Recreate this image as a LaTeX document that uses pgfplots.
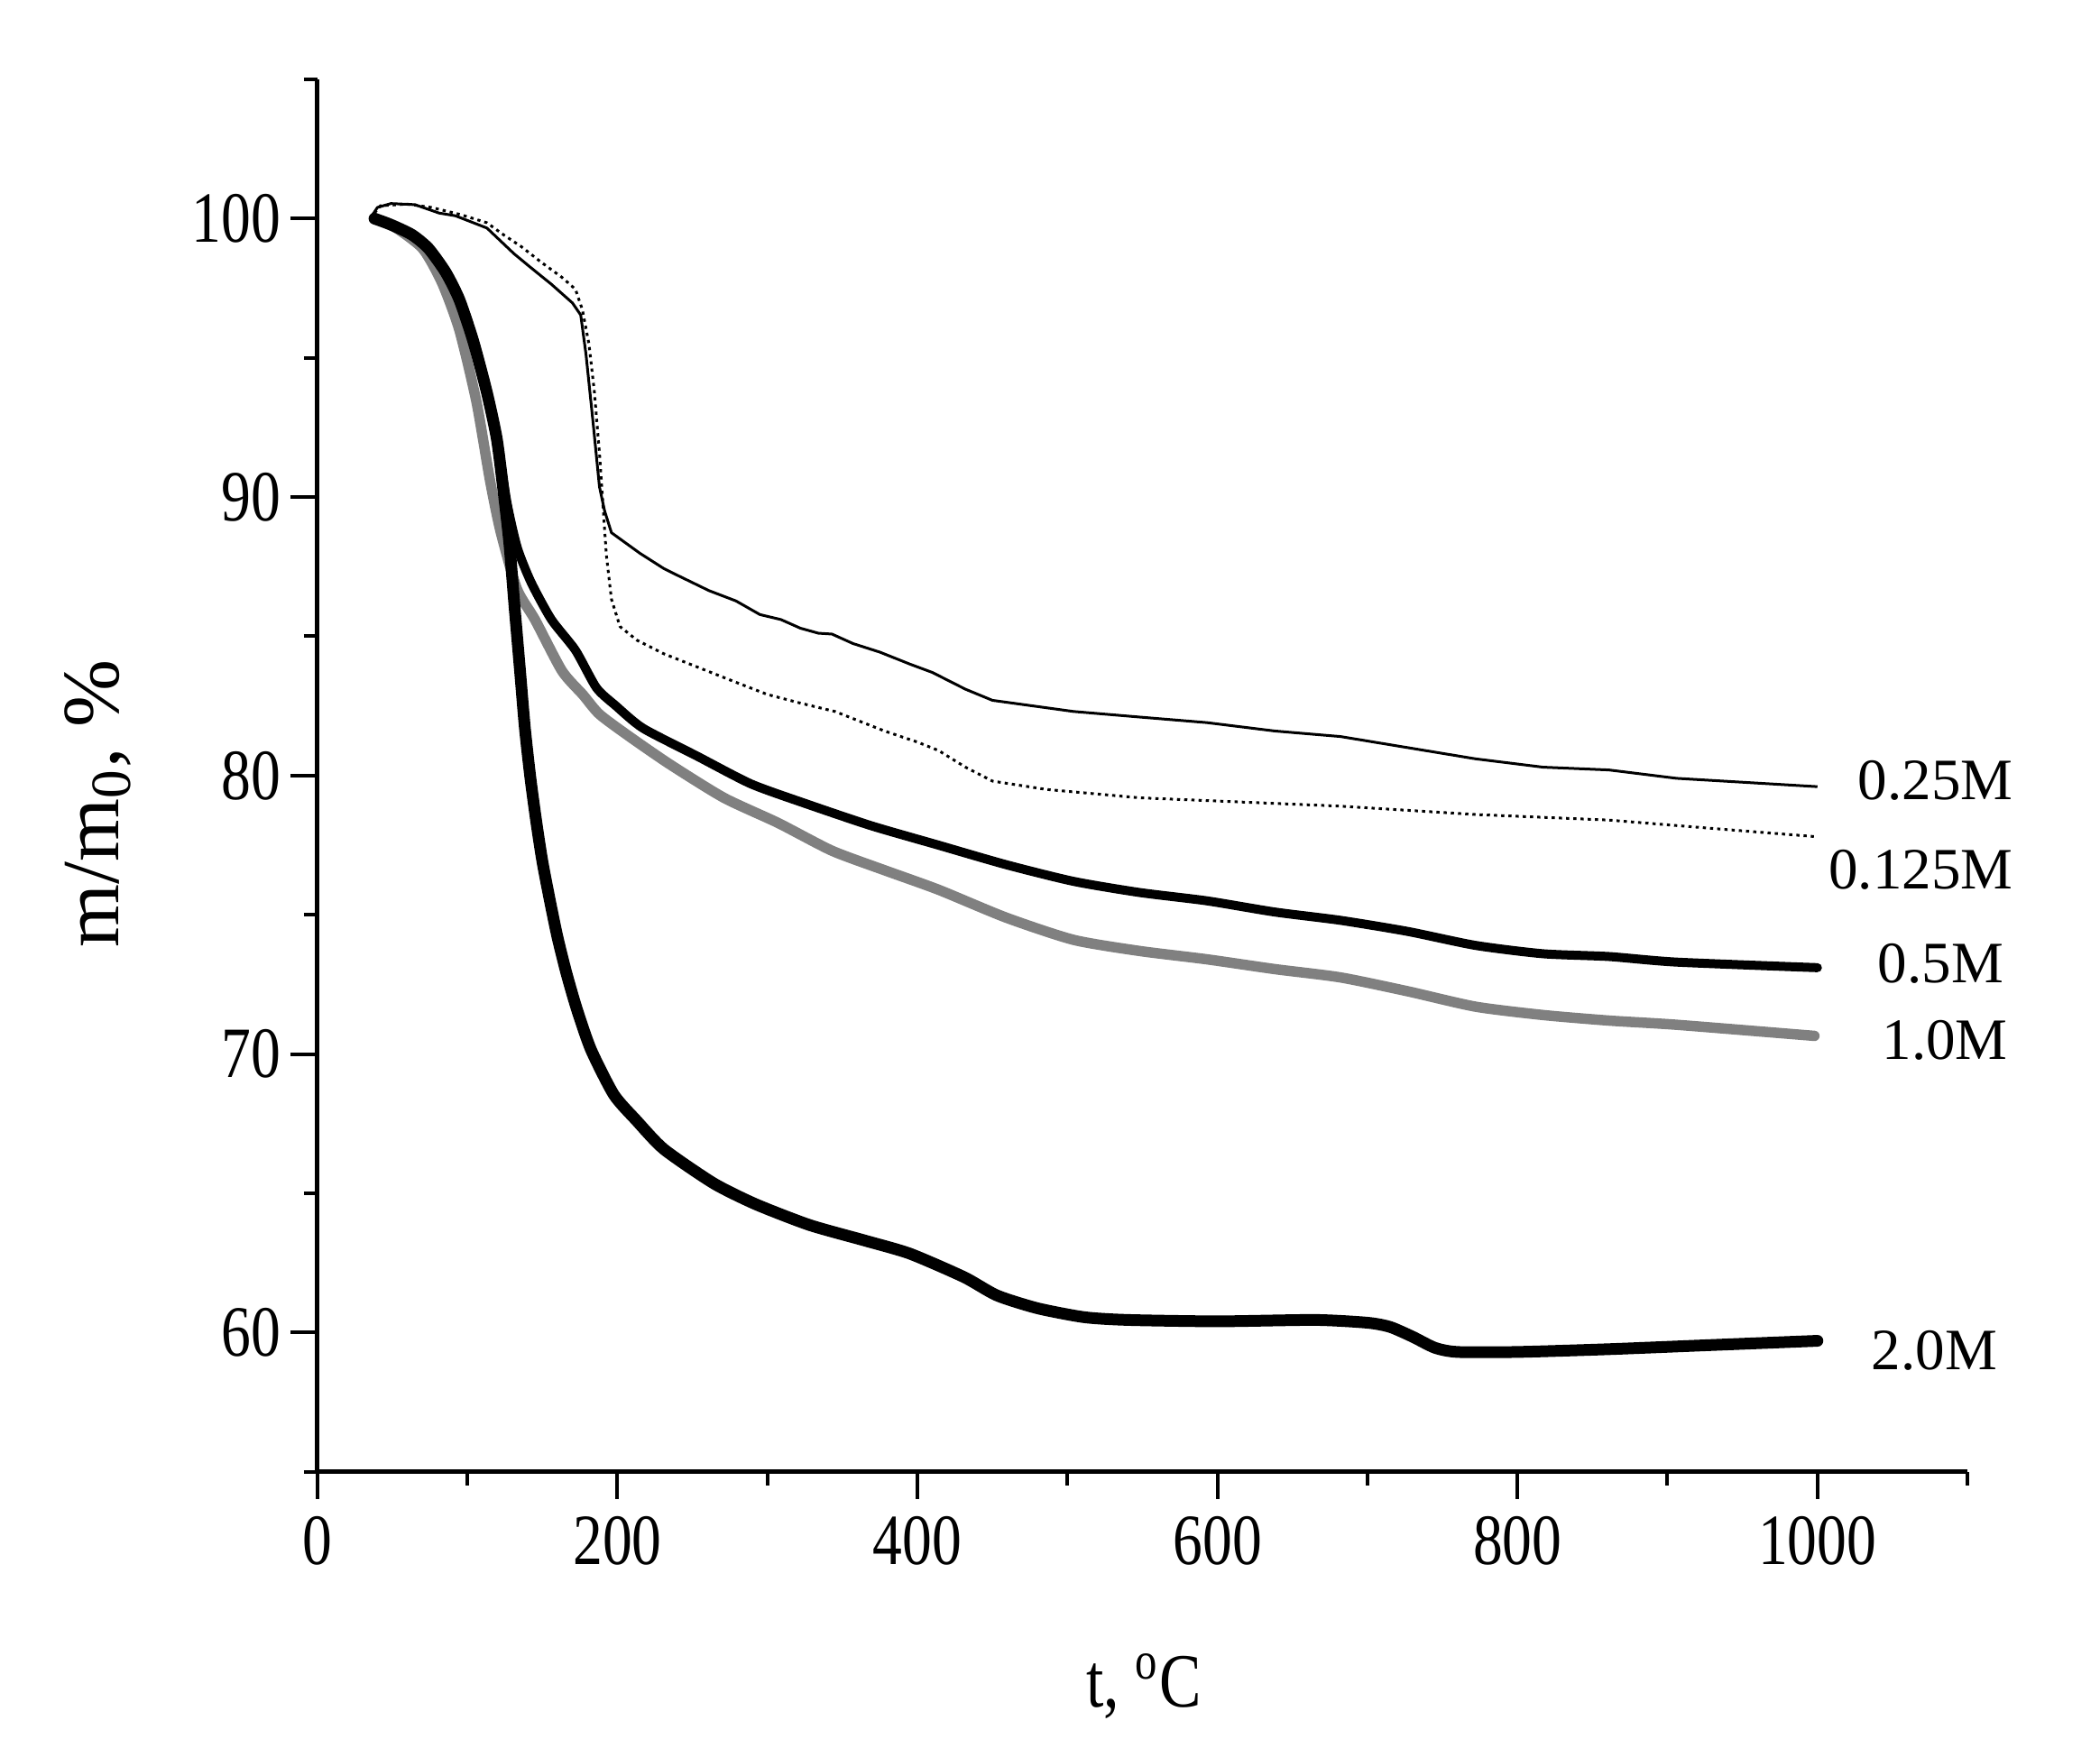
\documentclass[border=0pt]{standalone}
\usepackage{pgfplots}
\pgfplotsset{compat=1.18}
\usepackage{fontspec}
\setmainfont{Liberation Serif}
\newfontfamily\narrow{Liberation Serif}[FakeStretch=0.82]
\newcommand\tickf{\narrow\fontsize{16pt}{19pt}\selectfont}
\definecolor{grayline}{RGB}{128,128,128}

\pgfplotstableread{
x y
35 100.0
40 100.4
49 100.54
65 100.5
81 100.2
92 100.1
113 99.66
131 98.74
142 98.25
156 97.64
170 96.97
175.5 96.54
179 95.14
183.5 92.81
188 90.37
191.4 89.51
196 88.72
215 87.98
231 87.43
240 87.19
261 86.64
279 86.27
295 85.78
309 85.6
322 85.29
334 85.11
343 85.08
357 84.74
375 84.43
395 84.0
410 83.7
432 83.1
450 82.7
504 82.3
548 82.1
593 81.9
638 81.6
682 81.4
727 81.0
772 80.6
817 80.3
861 80.2
906 79.9
1000 79.6
}\tquarter

\pgfplotstableread{
x y
35 100.0
42 100.46
60 100.52
76 100.4
95 100.15
113 99.85
124 99.42
136 98.99
149 98.44
163 97.89
172 97.46
176.6 96.73
181 95.5
184.6 93.79
188 91.59
190.3 89.76
192.6 87.92
196 86.33
201.7 85.35
213 84.86
231 84.37
254 83.88
277 83.39
300 82.91
322 82.6
345 82.3
378 81.6
400 81.2
414 80.9
432 80.3
450 79.8
486 79.5
548 79.2
593 79.1
682 78.9
772 78.6
861 78.4
930 78.1
1000 77.8
}\teighth

\pgfplotstableread{
x y
38 100.0
49 99.78
63 99.42
74 98.93
85.5 98.07
94.6 97.09
103.7 95.63
112.8 93.79
119.6 92.08
126.5 89.76
133.3 88.17
142.4 86.94
156 85.6
172 84.5
186 83.15
199 82.5
217 81.7
253 80.7
289 79.7
325 79.0
369 78.2
414 77.5
459 76.8
504 76.2
548 75.8
593 75.5
638 75.1
682 74.8
727 74.4
772 73.9
817 73.6
861 73.5
906 73.3
1000 73.1
}\thalf

\pgfplotstableread{
x y
38 100.0
50 99.75
70 98.93
83 97.7
94.6 96.0
106 93.42
115 90.61
122 88.78
133 86.7
145 85.6
163 83.76
177 82.9
188 82.2
208 81.4
235 80.4
271 79.2
307 78.3
343 77.3
378 76.6
414 75.9
459 74.9
504 74.1
548 73.7
593 73.4
638 73.05
682 72.75
727 72.25
772 71.7
817 71.4
861 71.2
906 71.05
998 70.65
}\tone

\pgfplotstableread{
x y
38 100.0
49 99.78
63 99.42
74 98.93
85.5 98.07
94.6 97.09
103.7 95.63
112.8 93.79
119.6 92.08
124.5 90.0
128 88.3
131.5 86.0
135 83.8
138.3 81.7
142 79.9
146 78.3
150 76.9
155 75.5
160 74.2
166 72.9
173 71.6
182.4 70.15
197.6 68.54
212.7 67.61
231 66.58
264 65.36
292 64.61
328 63.86
365 63.3
395 62.83
431 61.99
453 61.33
480 60.87
511 60.55
540 60.45
600 60.4
665 60.45
700 60.35
715 60.2
730 59.85
745 59.45
760 59.3
800 59.3
861 59.4
930 59.55
1000 59.7
}\ttwo

\begin{document}
\begin{tikzpicture}
\useasboundingbox (-70.4pt,-59.2pt) rectangle (395.3pt,326.4pt);
\begin{axis}[
  scale only axis,
  width=365.9pt, height=308.8pt,
  xmin=0, xmax=1100, ymin=55, ymax=105,
  axis x line*=bottom, axis y line*=left,
  axis line style={line width=1pt, -},
  xtick={0,200,...,1000},
  minor xtick={100,300,...,1100},
  ytick={60,70,...,100},
  minor ytick={55,65,...,105},
  tick align=outside,
  major tick length=6pt,
  minor tick length=3pt,
  every tick/.style={line width=0.8pt, black},
  /pgf/number format/assume math mode=true,
  /pgf/number format/1000 sep={},
  tick label style={font=\tickf},
  xticklabel style={inner sep=3.8pt},
  yticklabel style={inner sep=2pt},
  clip=false,
  every axis x label/.style={at={(axis description cs:0.501,-0.169)}, anchor=base, font=\narrow\fontsize{17pt}{20pt}\selectfont},
  every axis y label/.style={at={(axis description cs:-0.1203,0.48)}, rotate=90, anchor=base, font=\fontsize{18pt}{20pt}\selectfont},
  xlabel={t, \textsuperscript{o}C},
  ylabel={m/m\textsubscript{0}, \%},
]
\addplot[grayline, line width=2.3pt, line cap=round, line join=round, smooth, tension=0.4] table {\tone};
\addplot[black, line width=2pt, line cap=round, line join=round, smooth, tension=0.4] table {\thalf};
\addplot[black, line width=2.6pt, line cap=round, line join=round, smooth, tension=0.4] table {\ttwo};
\addplot[black, line width=0.6pt, line join=round] table {\tquarter};
\addplot[black, line width=0.6pt, dash pattern=on 0.7pt off 0.9pt] table {\teighth};
\node[anchor=base west, inner sep=0pt, font=\fontsize{13pt}{15pt}\selectfont] at (axis cs:1026.5,79.13) {0.25M};
\node[anchor=base west, inner sep=0pt, font=\fontsize{13pt}{15pt}\selectfont] at (axis cs:1007,75.93) {0.125M};
\node[anchor=base west, inner sep=0pt, font=\fontsize{13pt}{15pt}\selectfont] at (axis cs:1039.7,72.55) {0.5M};
\node[anchor=base west, inner sep=0pt, font=\fontsize{13pt}{15pt}\selectfont] at (axis cs:1042.7,69.8) {1.0M};
\node[anchor=base west, inner sep=0pt, font=\fontsize{13pt}{15pt}\selectfont] at (axis cs:1035.5,58.65) {2.0M};
\end{axis}
\end{tikzpicture}
\end{document}
